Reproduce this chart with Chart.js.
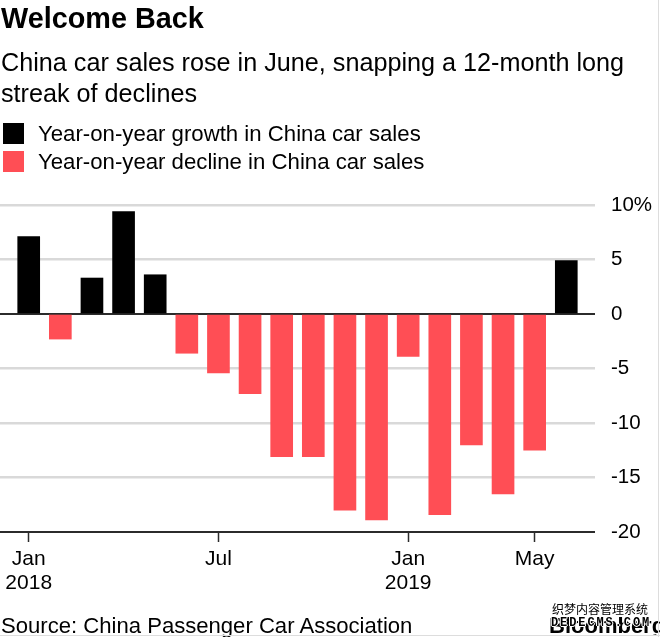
<!DOCTYPE html>
<html>
<head>
<meta charset="utf-8">
<script src="https://cdn.jsdelivr.net/npm/chart.js@4"></script>
<style>
  html, body { margin: 0; padding: 0; background: #fff; }
  body { width: 660px; height: 637px; position: relative; overflow: hidden; font-family: "Liberation Sans", sans-serif; color: #000; }
  canvas { position: absolute; left: 0; top: 0; }
  .t { position: absolute; white-space: nowrap; }
  #title { left: 1px; top: 2px; font-size: 28.8px; font-weight: bold; }
  #sub { left: 1px; top: 47px; font-size: 25.2px; line-height: 31px; }
  .sw { position: absolute; left: 3px; width: 21px; height: 21px; }
  .leg { left: 38px; font-size: 22.2px; }
  #source { left: 1px; top: 613px; font-size: 22.1px; }
  #brand { left: 549px; top: 613px; font-size: 22px; font-weight: bold; clip-path: inset(0 0 3px 0); }
  #mark, #mark2 { text-shadow: 1px 0 0 #fff, -1px 0 0 #fff, 0 1px 0 #fff, 0 -1px 0 #fff; }
  #mark { left: 552px; top: 600px; font: 12px "Noto Sans CJK SC"; }
  #mark2 { left: 551px; top: 616px; font: bold 12px "Liberation Mono"; letter-spacing: 1.9px; }
  #edgeR { position: absolute; left: 658px; top: 0; width: 1px; height: 637px; background: #ddd; }
  #edgeB { position: absolute; left: 0; top: 635px; width: 660px; height: 1px; background: #ddd; }
</style>
</head>
<body>
<canvas id="chart" width="660" height="637"></canvas>
<div class="t" id="title">Welcome Back</div>
<div class="t" id="sub">China car sales rose in June, snapping a 12-month long<br>streak of declines</div>
<div class="sw" style="top:123px;background:#000"></div>
<div class="t leg" style="top:121px">Year-on-year growth in China car sales</div>
<div class="sw" style="top:151px;background:#ff4e55"></div>
<div class="t leg" style="top:149px">Year-on-year decline in China car sales</div>
<div class="t" id="source">Source: China Passenger Car Association</div>
<div class="t" id="brand">Bloomberg</div>
<div class="t" id="mark">织梦内容管理系统</div>
<div class="t" id="mark2">DEDECMS.COM</div>
<div id="edgeR"></div>
<div id="edgeB"></div>
<script>
const growth = [7.1, -2.3, 3.3, 9.4, 3.6, -3.6, -5.4, -7.3, -13.1, -13.1, -18, -18.9, -3.9, -18.4, -12, -16.5, -12.5, 4.9];
const tickMonths = [0, 6, 12, 16];
const tickLabels = [['Jan', '2018'], ['Jul'], ['Jan', '2019'], ['May']];
const yTicks = [10, 5, 0, -5, -10, -15, -20];

const RED = '#ff4e55';
const DARK = '#2b2b2b';

new Chart(document.getElementById('chart'), {
  type: 'bar',
  data: {
    datasets: [{
      data: growth.map((v, i) => ({ x: i, y: v })),
      backgroundColor: (c) => (c.raw && c.raw.y >= 0 ? '#000' : RED),
      barThickness: 22,
      borderWidth: 0,
    }]
  },
  options: {
    responsive: false,
    animation: false,
    layout: { padding: { top: 205, bottom: 34, left: 0, right: 0 } },
    plugins: { legend: { display: false }, tooltip: { enabled: false } },
    scales: {
      x: {
        type: 'linear',
        offset: false,
        min: -0.908,
        max: 17.908,
        afterBuildTicks: (axis) => { axis.ticks = tickMonths.map(v => ({ value: v })); },
        afterFit: (axis) => { axis.height = 71; },
        border: { display: false },
        grid: { offset: false, drawOnChartArea: false, drawTicks: true, tickLength: 10, tickColor: DARK, tickWidth: 1.5 },
        ticks: {
          autoSkip: false,
          maxRotation: 0,
          padding: 5,
          color: '#000',
          font: { family: 'Liberation Sans', size: 21, lineHeight: 1.15 },
          callback: (v) => tickLabels[tickMonths.indexOf(v)],
        }
      },
      y: {
        position: 'right',
        min: -20,
        max: 10,
        afterBuildTicks: (axis) => { axis.ticks = yTicks.map(v => ({ value: v })); },
        afterFit: (axis) => { axis.width = 65; },
        border: { display: false },
        grid: {
          drawTicks: false,
          color: (c) => (c.tick.value === 0 || c.tick.value === -20 ? DARK : '#d9d9d9'),
          lineWidth: (c) => (c.tick.value === 0 || c.tick.value === -20 ? 2 : 2.5),
        },
        ticks: {
          padding: 16,
          color: '#000',
          font: { family: 'Liberation Sans', size: 20.5 },
          callback: (v) => (v === 10 ? '10%' : String(v)),
        }
      }
    }
  }
});
</script>
</body>
</html>
